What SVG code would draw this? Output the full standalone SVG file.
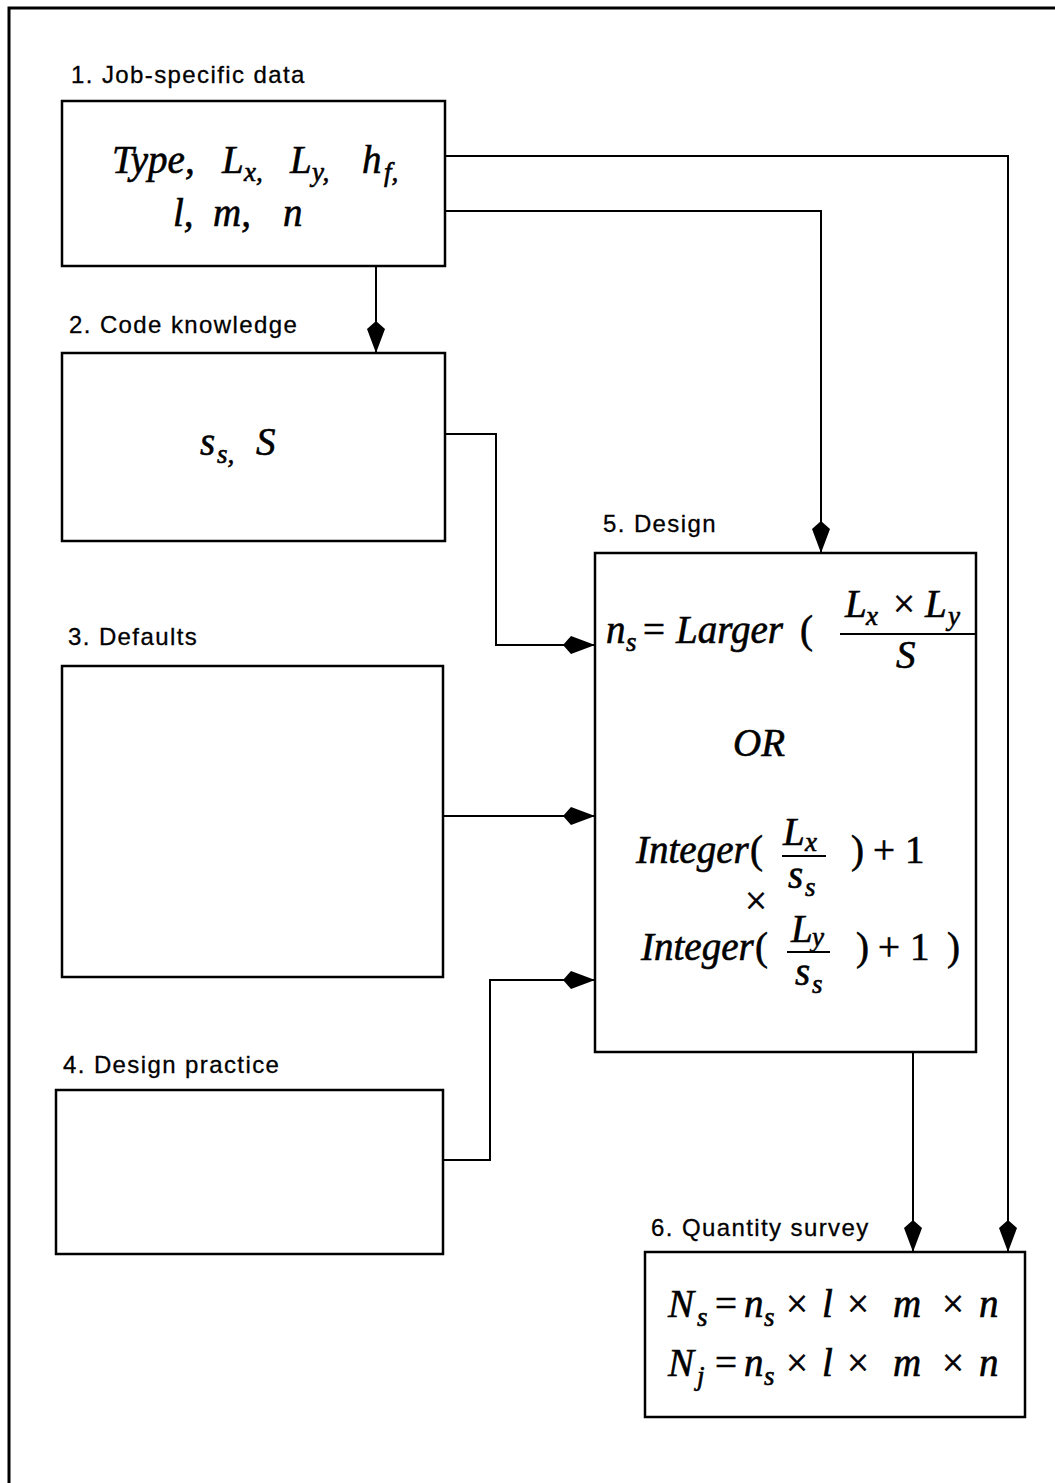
<svg xmlns="http://www.w3.org/2000/svg" width="1055" height="1483" viewBox="0 0 1055 1483">
<style>
.box{fill:none;stroke:#000;stroke-width:2.5}
.lbl{font-family:"Liberation Sans",Arial,sans-serif;font-size:24px;letter-spacing:1.4px;fill:#000;stroke:#000;stroke-width:0.3}
.m{font-family:"Liberation Serif","Times New Roman",serif;font-style:italic;font-size:39px;fill:#000;stroke:#000;stroke-width:0.6}
.u{font-style:normal}
.s{font-size:27px}
.c{fill:none;stroke:#000;stroke-width:2}
.fl{stroke:#000;stroke-width:2}
</style>
<defs>
<marker id="ah" viewBox="-34 -10 35 20" refX="0" refY="0" markerWidth="35" markerHeight="20" markerUnits="userSpaceOnUse" orient="auto">
<path d="M0,0 L-24,-9 L-32,0 L-24,9 Z" fill="#000"/>
</marker>
</defs>
<rect width="1055" height="1483" fill="#fff"/>
<path d="M9,1483 L9,8 L1055,8" fill="none" stroke="#000" stroke-width="3"/>

<g id="node1">
<text class="lbl" x="71" y="83">1. Job-specific data</text>
<rect class="box" x="62" y="101" width="383" height="165"/>
<text class="m"><tspan x="112" y="173">Type,</tspan><tspan x="222" y="173">L</tspan><tspan class="s" x="244" y="181">x,</tspan><tspan x="290" y="173">L</tspan><tspan class="s" x="312" y="181">y,</tspan><tspan x="362" y="173">h</tspan><tspan class="s" x="384" y="181">f,</tspan></text>
<text class="m"><tspan x="173" y="226">l,</tspan><tspan x="213" y="226">m,</tspan><tspan x="283" y="226">n</tspan></text>
</g>

<g id="node2">
<text class="lbl" x="69" y="333">2. Code knowledge</text>
<rect class="box" x="62" y="353" width="383" height="188"/>
<text class="m"><tspan x="200" y="455">s</tspan><tspan class="s" x="217" y="463">s,</tspan><tspan x="256" y="455">S</tspan></text>
</g>

<g id="node3">
<text class="lbl" x="68" y="645">3. Defaults</text>
<rect class="box" x="62" y="666" width="381" height="311"/>
</g>

<g id="node4">
<text class="lbl" x="63" y="1073">4. Design practice</text>
<rect class="box" x="56" y="1090" width="387" height="164"/>
</g>

<g id="node5">
<text class="lbl" x="603" y="532">5. Design</text>
<rect class="box" x="595" y="553" width="381" height="499"/>
<text class="m"><tspan x="606" y="643">n</tspan><tspan class="s" x="626" y="651">s</tspan><tspan class="u" x="643" y="643">=</tspan><tspan x="676" y="643">Larger</tspan><tspan class="u" x="800" y="643">(</tspan></text>
<text class="m"><tspan x="845" y="617">L</tspan><tspan class="s" x="866" y="625">x</tspan><tspan class="u" x="893" y="617">×</tspan><tspan x="925" y="617">L</tspan><tspan class="s" x="948" y="625">y</tspan></text>
<line class="fl" x1="840" y1="634" x2="976" y2="634"/>
<text class="m" x="896" y="668">S</text>
<text class="m" x="733" y="756">OR</text>
<text class="m"><tspan x="636" y="863">Integer</tspan><tspan class="u" x="750" y="863">(</tspan></text>
<text class="m"><tspan x="783" y="845">L</tspan><tspan class="s" x="805" y="851">x</tspan></text>
<line class="fl" x1="782" y1="856" x2="826" y2="856"/>
<text class="m"><tspan x="788" y="888">s</tspan><tspan class="s" x="805" y="896">s</tspan></text>
<text class="m u"><tspan x="851" y="863">)</tspan><tspan x="873" y="863">+</tspan><tspan x="905" y="863">1</tspan></text>
<text class="m u" x="745" y="914">×</text>
<text class="m"><tspan x="641" y="960">Integer</tspan><tspan class="u" x="755" y="960">(</tspan></text>
<text class="m"><tspan x="791" y="942">L</tspan><tspan class="s" x="812" y="946">y</tspan></text>
<line class="fl" x1="787" y1="952" x2="830" y2="952"/>
<text class="m"><tspan x="795" y="985">s</tspan><tspan class="s" x="812" y="993">s</tspan></text>
<text class="m u"><tspan x="856" y="960">)</tspan><tspan x="878" y="960">+</tspan><tspan x="910" y="960">1</tspan><tspan x="947" y="960">)</tspan></text>
</g>

<g id="node6">
<text class="lbl" x="651" y="1236">6. Quantity survey</text>
<rect class="box" x="645" y="1252" width="380" height="165"/>
<text class="m"><tspan x="668" y="1317">N</tspan><tspan class="s" x="697" y="1326">s</tspan><tspan class="u" x="715" y="1317">=</tspan><tspan x="744" y="1317">n</tspan><tspan class="s" x="764" y="1326">s</tspan><tspan class="u" x="786" y="1317">×</tspan><tspan x="822" y="1317">l</tspan><tspan class="u" x="847" y="1317">×</tspan><tspan x="893" y="1317">m</tspan><tspan class="u" x="942" y="1317">×</tspan><tspan x="979" y="1317">n</tspan></text>
<text class="m"><tspan x="668" y="1376">N</tspan><tspan class="s" x="697" y="1385">j</tspan><tspan class="u" x="715" y="1376">=</tspan><tspan x="744" y="1376">n</tspan><tspan class="s" x="764" y="1385">s</tspan><tspan class="u" x="786" y="1376">×</tspan><tspan x="822" y="1376">l</tspan><tspan class="u" x="847" y="1376">×</tspan><tspan x="893" y="1376">m</tspan><tspan class="u" x="942" y="1376">×</tspan><tspan x="979" y="1376">n</tspan></text>
</g>

<g id="connectors">
<path class="c" d="M445,156 H1008 V1252" marker-end="url(#ah)"/>
<path class="c" d="M445,211 H821 V553" marker-end="url(#ah)"/>
<path class="c" d="M376,266 V353" marker-end="url(#ah)"/>
<path class="c" d="M445,434 H496 V645 H595" marker-end="url(#ah)"/>
<path class="c" d="M443,816 H595" marker-end="url(#ah)"/>
<path class="c" d="M443,1160 H490 V980 H595" marker-end="url(#ah)"/>
<path class="c" d="M913,1052 V1252" marker-end="url(#ah)"/>
</g>
</svg>
